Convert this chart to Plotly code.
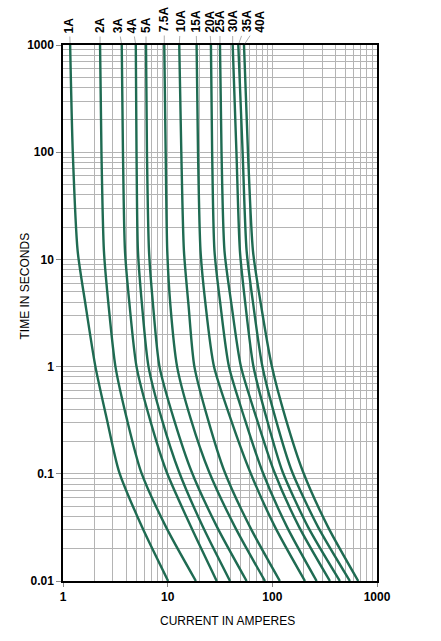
import math
import plotly.graph_objects as go

# ---- data ----
ratings = ["1A", "2A", "3A", "4A", "5A", "7.5A", "10A", "15A", "20A", "25A", "30A", "35A", "40A"]
times_s = [1000, 100, 12, 3.8, 1.0, 0.32, 0.105, 0.032, 0.01]

amps_1A = [1.17, 1.24, 1.38, 1.64, 2.04, 2.63, 3.43, 5.68, 10.1]
amps_2A = [2.26, 2.33, 2.46, 2.72, 3.17, 4.09, 5.56, 9.63, 18.6]
amps_3A = [3.64, 3.74, 3.91, 4.32, 5.04, 6.78, 9.74, 16.7, 29.4]
amps_4A = [4.96, 5.04, 5.20, 5.68, 6.56, 8.82, 12.8, 21.7, 39.4]
amps_5A = [6.21, 6.34, 6.63, 7.24, 8.35, 11.5, 16.9, 29.6, 56.8]
amps_7_5A = [9.28, 9.57, 9.91, 10.6, 12.3, 16.7, 24.8, 43.9, 85.0]
amps_10A = [12.9, 13.5, 14.3, 15.8, 18.0, 24.3, 34.9, 61.1, 118]
amps_15A = [18.9, 19.5, 20.6, 23.0, 27.7, 40.2, 61.1, 106, 205]
amps_20A = [25.9, 26.6, 28.0, 31.9, 38.5, 54.7, 80.4, 138, 265]
amps_25A = [31.6, 32.7, 34.9, 40.7, 50.1, 71.3, 104, 180, 355]
amps_30A = [41.8, 45.4, 49.0, 55.3, 66.0, 88.8, 125, 219, 442]
amps_35A = [47.3, 52.0, 56.8, 65.7, 80.4, 108, 154, 273, 551]
amps_40A = [53.6, 58.5, 65.3, 77.8, 99.1, 135, 196, 340, 662]

curves = [amps_1A, amps_2A, amps_3A, amps_4A, amps_5A, amps_7_5A, amps_10A,
          amps_15A, amps_20A, amps_25A, amps_30A, amps_35A, amps_40A]

x_tick_vals = [1, 10, 100, 1000]
x_tick_text = ["1", "10", "100", "1000"]
y_tick_vals = [0.01, 0.1, 1, 10, 100, 1000]
y_tick_text = ["0.01", "0.1", "1", "10", "100", "1000"]

# ---- styling ----
line_color = "#1f6b52"
grid_color = "#b4b4b4"
font_main = "Liberation Sans Narrow, Arial Narrow, Liberation Sans, Arial"
font_tick = "Liberation Sans, Arial"

fig = go.Figure()
for name, amps in zip(ratings, curves):
    fig.add_trace(go.Scatter(
        x=amps, y=times_s, mode="lines", name=name,
        line=dict(color=line_color, width=2.4, shape="spline", smoothing=0.7),
        showlegend=False, hoverinfo="skip"))

def minor_vals(lo_exp, hi_exp):
    vals = []
    for e in range(lo_exp, hi_exp):
        for m in range(2, 10):
            vals.append(m * 10 ** e)
    return vals

fig.update_xaxes(
    type="log", range=[0, 3],
    tickvals=x_tick_vals, ticktext=x_tick_text,
    showgrid=True, gridcolor=grid_color, gridwidth=1,
    minor=dict(tickvals=minor_vals(0, 3), showgrid=True, gridcolor=grid_color,
               gridwidth=1, ticks=""),
    showline=True, linecolor="black", linewidth=1.5, mirror=True,
    ticks="outside", ticklen=4, tickcolor="#888",
    tickfont=dict(family=font_tick, size=12, color="black", weight="bold"),
    zeroline=False,
)
fig.update_yaxes(
    type="log", range=[-2, 3],
    tickvals=y_tick_vals, ticktext=y_tick_text,
    showgrid=True, gridcolor=grid_color, gridwidth=1,
    minor=dict(tickvals=minor_vals(-2, 3), showgrid=True, gridcolor=grid_color,
               gridwidth=1, ticks=""),
    showline=True, linecolor="black", linewidth=1.5, mirror=True,
    ticks="outside", ticklen=5, tickcolor="#888",
    tickfont=dict(family=font_tick, size=12, color="black", weight="bold"),
    zeroline=False,
)

# rating labels at the top, with short leader lines
label_dx = [-0.7, 0, -3.4, -3.3, 0, 0, 1.4, -0.7, -1.7, 0, 0, 8.4, 15.3]
annotations = []
for name, amps, dx in zip(ratings, curves, label_dx):
    L = 7.0 * len(name) if name != "7.5A" else 26
    annotations.append(dict(
        x=math.log10(amps[0]), y=1, xref="x", yref="paper",
        text=name, textangle=-90, showarrow=True, arrowhead=0,
        arrowwidth=0.8, arrowcolor="#9a9a9a",
        ax=dx, ay=-(13 + L / 2), axref="pixel", ayref="pixel",
        standoff=2, startstandoff=2,
        font=dict(family=font_main, size=12, color="black", weight="bold"),
    ))

annotations.append(dict(
    x=-0.12, y=0.55, xref="paper", yref="paper", xanchor="center", yanchor="middle",
    text="TIME IN SECONDS", textangle=-90, showarrow=False,
    font=dict(family=font_main, size=12, color="black")))
annotations.append(dict(
    x=0.525, y=-0.075, xref="paper", yref="paper", xanchor="center", yanchor="middle",
    text="CURRENT IN AMPERES", showarrow=False,
    font=dict(family=font_main, size=12, color="black")))

fig.update_layout(
    width=441, height=641,
    margin=dict(l=63, r=64, t=45, b=60),
    paper_bgcolor="white", plot_bgcolor="white",
    annotations=annotations,
)

fig.write_html("out.html")
